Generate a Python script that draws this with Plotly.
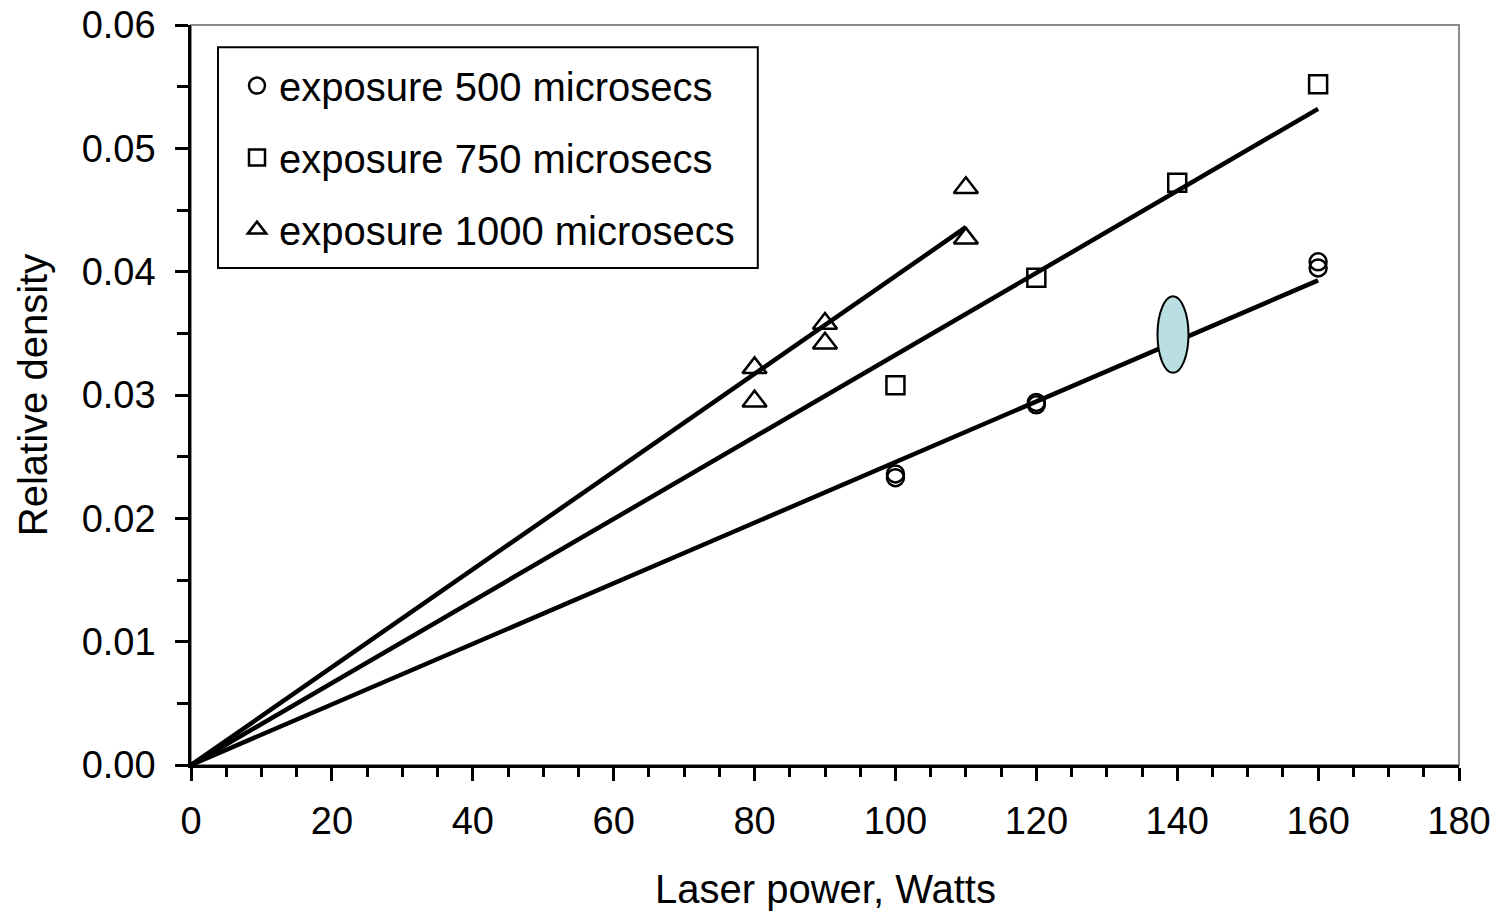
import plotly.graph_objects as go

# ---- data ----
x500 = [100, 100, 120, 120, 160, 160]
y500 = [0.0233, 0.0236, 0.0292, 0.0294, 0.0403, 0.0408]

x750 = [100, 120, 140, 160]
y750 = [0.0308, 0.0395, 0.0472, 0.0552]

x1000 = [80, 80, 90, 90, 110, 110]
y1000 = [0.0295, 0.0322, 0.0342, 0.0358, 0.0427, 0.0468]

# fitted lines through origin: slope and x-range end
fit_names = ["500", "750", "1000"]
fit_slopes = [0.0002456, 0.0003325, 0.0003964]
fit_xend = [160, 160, 110]

# highlighted point (ellipse)
ell_x, ell_y = 139.4, 0.0349
ell_dx, ell_dy = 2.2, 0.0031

x_ticks = [0, 20, 40, 60, 80, 100, 120, 140, 160, 180]
y_ticks = [0.0, 0.01, 0.02, 0.03, 0.04, 0.05, 0.06]
y_ticktext = ["0.00", "0.01", "0.02", "0.03", "0.04", "0.05", "0.06"]

FONT = "Liberation Sans, Arial, sans-serif"

fig = go.Figure()

for s, xe in zip(fit_slopes, fit_xend):
    fig.add_trace(go.Scatter(x=[0, xe], y=[0, s * xe], mode="lines",
                             line=dict(color="black", width=4.5),
                             showlegend=False, hoverinfo="skip"))

fig.add_trace(go.Scatter(x=x500, y=y500, mode="markers", name="exposure 500 microsecs",
                         legendgroup="a",
                         marker=dict(symbol="circle-open", size=17, color="black",
                                     line=dict(width=2.5, color="black"))))
fig.add_trace(go.Scatter(x=x750, y=y750, mode="markers", name="exposure 750 microsecs",
                         legendgroup="b",
                         marker=dict(symbol="square-open", size=18, color="black",
                                     line=dict(width=2.5, color="black"))))
fig.add_trace(go.Scatter(x=x1000, y=y1000, mode="markers", name="exposure 1000 microsecs",
                         legendgroup="c",
                         marker=dict(symbol="triangle-up-open", size=21, color="black",
                                     line=dict(width=2.5, color="black"))))

# gray top/right border
fig.add_shape(type="rect", xref="paper", yref="paper", x0=0, x1=1, y0=0, y1=1,
              line=dict(color="#8c8c8c", width=2), layer="below")

# legend frame
fig.add_shape(type="rect", xref="paper", yref="paper", x0=0.0213, x1=0.447,
              y0=0.6716, y1=0.970, line=dict(color="black", width=2),
              fillcolor="white", layer="below")

fig.add_shape(type="circle", xref="x", yref="y",
              x0=ell_x - ell_dx, x1=ell_x + ell_dx,
              y0=ell_y - ell_dy, y1=ell_y + ell_dy,
              fillcolor="#b9dfe2", line=dict(color="black", width=2), layer="above")

# x-axis title as annotation
fig.add_annotation(text="Laser power, Watts", xref="paper", yref="paper",
                   x=0.5, y=-0.1676, xanchor="center", yanchor="middle",
                   showarrow=False, font=dict(family=FONT, size=40, color="black"))

fig.update_layout(
    width=1503, height=911,
    margin=dict(l=191, r=44, t=25, b=146, autoexpand=False),
    plot_bgcolor="white", paper_bgcolor="white",
    font=dict(family=FONT, size=38, color="black"),
    legend=dict(x=0.0347, y=0.962, xanchor="left", yanchor="top",
                borderwidth=0, bgcolor="rgba(0,0,0,0)",
                font=dict(family=FONT, size=40, color="black"),
                tracegroupgap=17, traceorder="grouped", itemwidth=34),
    xaxis=dict(range=[0, 180], tickvals=x_ticks, showgrid=False, zeroline=False,
               showline=True, linecolor="black", linewidth=2.5, automargin=False,
               ticks="outside", ticklen=13, tickwidth=2.5, tickcolor="black",
               minor=dict(dtick=5, ticks="outside", ticklen=9, tickwidth=2.5, tickcolor="black", showgrid=False),
               tickfont=dict(size=38), ticklabelstandoff=8),
    yaxis=dict(range=[0, 0.06], tickvals=y_ticks, ticktext=y_ticktext, showgrid=False, zeroline=False,
               showline=True, linecolor="black", linewidth=2.5, automargin=False,
               ticks="outside", ticklen=13, tickwidth=2.5, tickcolor="black",
               minor=dict(dtick=0.005, ticks="outside", ticklen=11, tickwidth=2.5, tickcolor="black", showgrid=False),
               tickfont=dict(size=38), ticklabelstandoff=12,
               title=dict(text="Relative density", font=dict(size=40), standoff=22)),
)

fig.write_html("out.html", config={"displayModeBar": False},
               post_script="document.body.style.margin='0px';")
